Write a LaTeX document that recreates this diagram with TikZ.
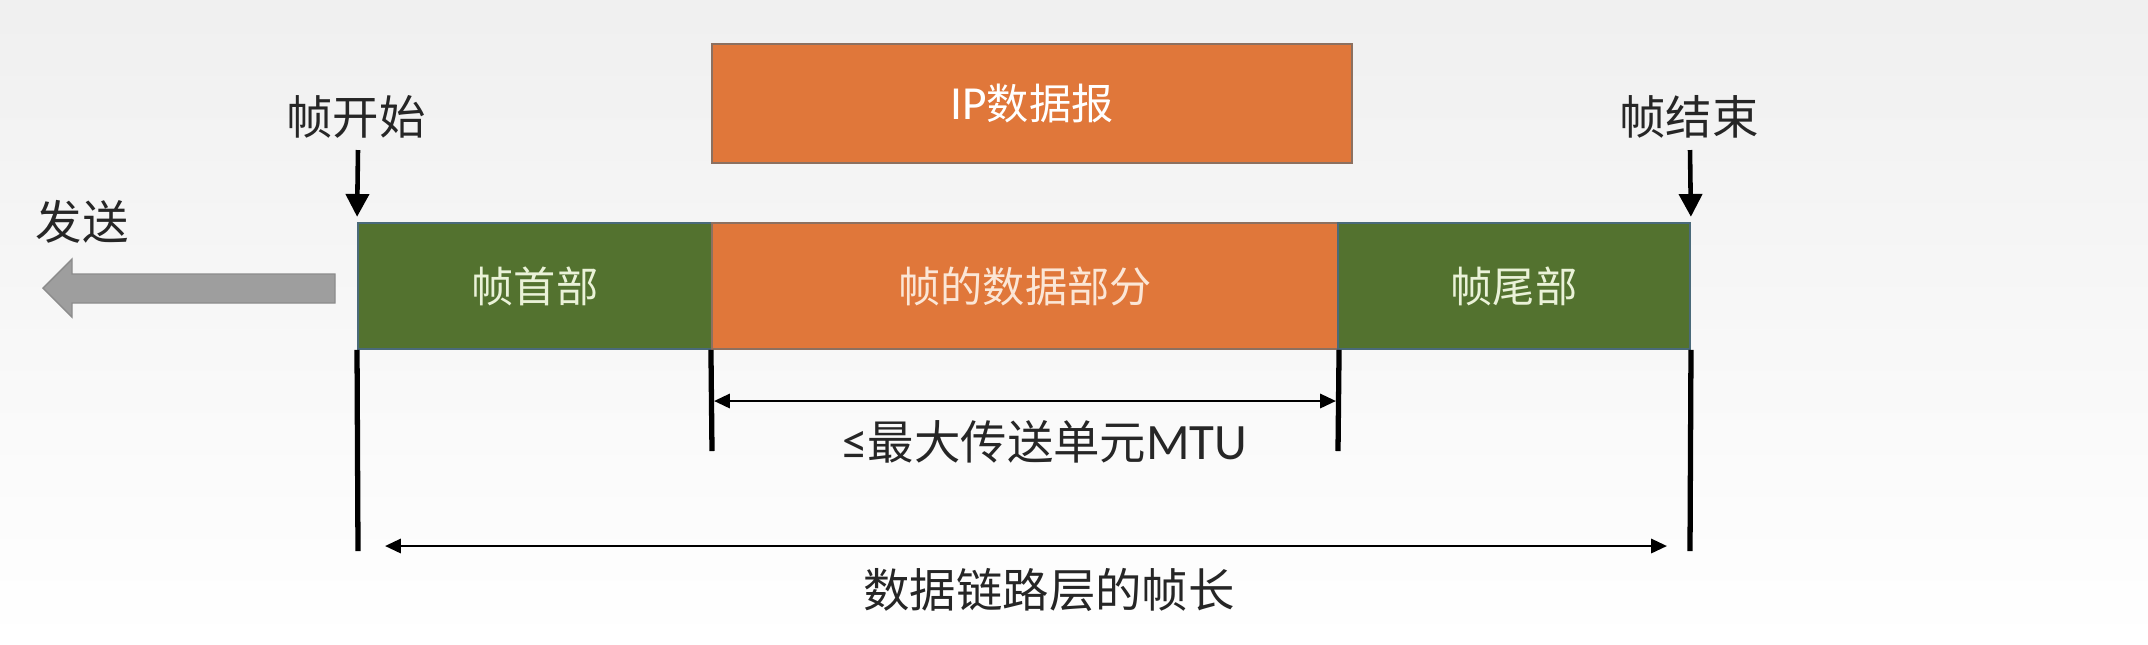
\documentclass[tikz,border=0pt]{standalone}
\usepackage{fontspec}
\setmainfont{Noto Sans CJK SC}
\newfontfamily\latinf{Carlito}
\usetikzlibrary{arrows.meta}
\definecolor{grn}{HTML}{53722F}
\definecolor{grnedge}{HTML}{4A6A7A}
\definecolor{org}{HTML}{E0773A}
\definecolor{orgedge}{HTML}{8C7060}
\definecolor{grnt}{HTML}{EAF2D8}
\definecolor{orgt}{HTML}{FBE6D6}
\definecolor{garrow}{HTML}{9E9E9E}
\begin{document}
\begin{tikzpicture}[x=0.01cm,y=-0.01cm,
  field/.style={rectangle,draw,line width=0.5pt,inner sep=0pt,minimum height=1.26cm,font=\fontsize{12}{14}\selectfont},
  grnbox/.style={field,fill=grn,draw=grnedge,text=grnt},
  orgbox/.style={field,fill=org,draw=orgedge,text=orgt},
  lbl/.style={inner sep=0pt,font=\fontsize{13.2}{15}\selectfont,text=black!85},
  down/.style={line width=1.3pt,shorten >=1.5pt,-{Triangle[length=6.5pt,width=6.5pt]}},
  bar/.style={line width=1.5pt},
  dim/.style={line width=0.8pt,{Triangle[length=4.5pt,width=4pt]}-{Triangle[length=4.5pt,width=4pt]}}]
\shade[top color=black!6,bottom color=white] (0,0) rectangle (2148,644);
\useasboundingbox (0,0) rectangle (2148,644);
% IP datagram
\node[orgbox,minimum width=6.4cm,minimum height=1.19cm,text=white] (ip) at (1032,103.5) {{\latinf\fontsize{13.5}{14}\selectfont IP}数据报};
% frame
\node[grnbox,minimum width=3.54cm] (hdr) at (535,286) {帧首部};
\node[orgbox,minimum width=6.26cm] (data) at (1025,286) {帧的数据部分};
\node[grnbox,minimum width=3.52cm] (trl) at (1514,286) {帧尾部};
% labels
\node[lbl] (start) at (356,117) {帧开始};
\node[lbl] (end) at (1689,117) {帧结束};
\node[lbl] (send) at (82,222) {发送};
\coordinate (s0) at (358,150);
\coordinate (e0) at (1690,150);
\draw[down] (s0) -- (hdr.north west);
\draw[down] (e0) -- (trl.north east);
% send arrow
\draw[fill=garrow,draw=black!45,line width=0.4pt] (43,288) -- (72,259) -- (72,274) -- (335,274) -- (335,303) -- (72,303) -- (72,317) -- cycle;
% bars
\coordinate (b1) at (358,551);
\coordinate (b2) at (712,451);
\coordinate (b3) at (1338,451);
\coordinate (b4) at (1690,551);
\draw[bar] (hdr.south west) -- (b1);
\draw[bar] (data.south west) -- (b2);
\draw[bar] (data.south east) -- (b3);
\draw[bar] (trl.south east) -- (b4);
% dimension arrows
\coordinate (m1) at (714,401);
\coordinate (m2) at (1336,401);
\draw[dim] (m1) -- (m2);
\node[lbl] (mtu) at (1045,442) {{\latinf\fontsize{14.5}{15}\selectfont ≤}最大传送单元{\latinf\fontsize{14.5}{15}\selectfont MTU}};
\coordinate (f1) at (385,546);
\coordinate (f2) at (1667,546);
\draw[dim] (f1) -- (f2);
\node[lbl] (flen) at (1049,590) {数据链路层的帧长};
\end{tikzpicture}
\end{document}
